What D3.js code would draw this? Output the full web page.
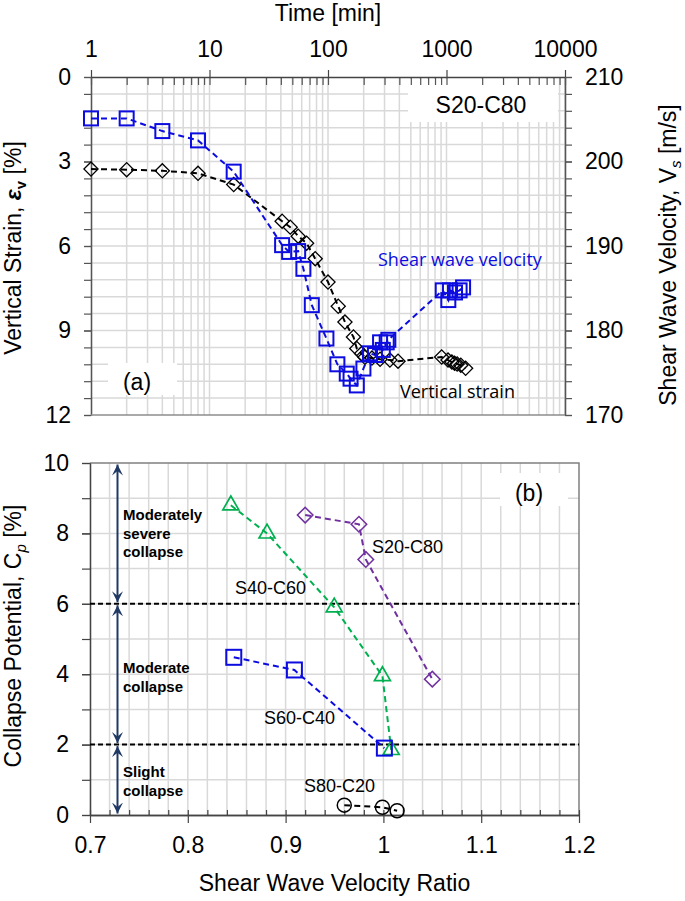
<!DOCTYPE html>
<html><head><meta charset="utf-8">
<script src="https://cdn.jsdelivr.net/npm/d3@7"></script>
<style>
body{margin:0;background:#fff}
svg{display:block}
text{font-family:"Liberation Sans",Arial,sans-serif}
</style>
</head><body>
<svg id="c" width="685" height="901"></svg>
<script>
// ---------- DATA ----------
const strainTime   = [1,2,4,8,16,41,48,56,66,78,100,122,139,164,175,192,205,235,275,333,390,910,1030,1110,1170,1230,1320,1450];
const strainValues = [3.27,3.29,3.33,3.42,3.82,5.12,5.33,5.65,5.9,6.45,7.28,8.14,8.7,9.23,9.64,9.82,9.95,9.98,10.02,10.05,10.09,9.94,10.05,10.12,10.16,10.19,10.23,10.34];
const vsTime   = [1,2,4,8,16,41,47,56,62,73,97,120,144,155,175,199,226,249,275,290,313,323,929,1036,1070,1180,1290,1380];
const vsValues = [205.1,205.1,203.6,202.5,198.8,190.1,189.3,189.4,187.3,183.0,179.05,176.0,174.9,174.3,173.5,175.5,177.3,177.1,178.6,177.7,178.6,178.9,184.75,183.6,184.75,184.5,184.75,185.1];

const timeTicks   = [1,10,100,1000,10000];
const strainTicks = [0,3,6,9,12];
const vsTicks     = [170,180,190,200,210];
const ratioTicks  = [0.7,0.8,0.9,1,1.1,1.2];
const cpTicks     = [0,2,4,6,8,10];

const s20Ratio = [0.92,0.975,0.982,1.05];
const s20Cp    = [8.52,8.26,7.26,3.86];
const s40Ratio = [0.844,0.881,0.9497,0.999,1.008];
const s40Cp    = [8.8,8.0,5.9,3.95,1.85];
const s60Ratio = [0.847,0.909,1.001];
const s60Cp    = [4.48,4.12,1.9];
const s80Ratio = [0.96,0.999,1.014];
const s80Cp    = [0.28,0.22,0.12];
const zoneBounds = [2,6];

// ---------- LAYOUT ----------
const svg = d3.select("#c");
const T = {l:91, r:565, t:77, b:415};
const B = {l:90, r:579, t:463, b:815};
const FS = 23;
const BLUE = "#0c0ce0", GREEN = "#00b050", PURPLE = "#7030a0", NAVY = "#1f3864";
const GRID = "#d9d9d9";

const xTime = d3.scaleLog().domain([1,10000]).range([T.l,T.r]);
const yStrain = d3.scaleLinear().domain([0,12]).range([T.t,T.b]);
const yVs = d3.scaleLinear().domain([170,210]).range([T.b,T.t]);
const xRatio = d3.scaleLinear().domain([0.7,1.2]).range([B.l,B.r]);
const yCp = d3.scaleLinear().domain([0,10]).range([B.b,B.t]);

// ---------- TOP PANEL GRID ----------
const minorTimes = [];
for (let k=0;k<4;k++) for (let m=1;m<10;m++) minorTimes.push(m*Math.pow(10,k));
minorTimes.push(10000);
const strainMinor = d3.range(0,21).map(i=>i*0.6);

const gGridT = svg.append("g").attr("stroke",GRID).attr("stroke-width",1.5);
gGridT.selectAll("line.v").data(minorTimes.slice(1)).join("line")
  .attr("x1",d=>xTime(d)).attr("x2",d=>xTime(d)).attr("y1",T.t).attr("y2",T.b);
gGridT.selectAll("line.h").data(strainMinor.slice(1,-1)).join("line")
  .attr("x1",T.l).attr("x2",T.r).attr("y1",d=>yStrain(d)).attr("y2",d=>yStrain(d));

// white label boxes
svg.append("rect").attr("x",408).attr("y",79).attr("width",150).attr("height",43).attr("fill","#fff");
svg.append("rect").attr("x",108).attr("y",363).attr("width",69).attr("height",32).attr("fill","#fff");

// ---------- TOP PANEL AXES ----------
function styleAxis(g,color){
  g.select(".domain").attr("stroke",color).attr("stroke-width",1.3);
  g.selectAll(".tick line").attr("stroke",color).attr("stroke-width",1.2);
  g.selectAll(".tick text").attr("fill","#000").attr("font-size",FS).attr("font-family",'"Liberation Sans",Arial,sans-serif');
}
svg.append("g").attr("transform",`translate(0,${T.t})`)
  .call(d3.axisBottom(xTime).tickValues(minorTimes).tickSize(8).tickFormat(""))
  .call(g=>{g.select(".domain").remove(); g.selectAll(".tick line").attr("stroke","#555").attr("stroke-width",1.2);});
svg.append("g").attr("transform",`translate(0,${T.t})`)
  .call(d3.axisTop(xTime).tickValues(timeTicks).tickSize(7).tickSizeOuter(0).tickPadding(13).tickFormat(d3.format("d")))
  .call(g=>styleAxis(g,"#444"));
svg.append("g").attr("transform",`translate(${T.l},0)`)
  .call(d3.axisLeft(yStrain).tickValues(strainMinor).tickSize(7).tickSizeOuter(0).tickFormat(""))
  .call(g=>styleAxis(g,"#555"));
svg.append("g").attr("transform",`translate(${T.l},0)`)
  .call(d3.axisLeft(yStrain).tickValues(strainTicks).tickSize(7).tickSizeOuter(0).tickPadding(13).tickFormat(d3.format("d")))
  .call(g=>styleAxis(g,"#555"));
const vsMinor = d3.range(170,211,2);
svg.append("g").attr("transform",`translate(${T.r},0)`)
  .call(d3.axisRight(yVs).tickValues(vsMinor).tickSize(7).tickSizeOuter(0).tickFormat(""))
  .call(g=>styleAxis(g,"#555"));
svg.append("g").attr("transform",`translate(${T.r},0)`)
  .call(d3.axisRight(yVs).tickValues(vsTicks).tickSize(7).tickSizeOuter(0).tickPadding(13).tickFormat(d3.format("d")))
  .call(g=>styleAxis(g,"#555"));
svg.append("line").attr("x1",T.l).attr("x2",T.r).attr("y1",T.b).attr("y2",T.b).attr("stroke","#8c8c8c").attr("stroke-width",1.5);

// ---------- TOP PANEL DATA ----------
const strainPts = strainTime.map((t,i)=>[xTime(t),yStrain(strainValues[i])]);
const vsPts = vsTime.map((t,i)=>[xTime(t),yVs(vsValues[i])]);
const line = d3.line();
svg.append("path").attr("d",line(strainPts)).attr("fill","none").attr("stroke","#000").attr("stroke-width",2).attr("stroke-dasharray","6,4");
svg.append("path").attr("d",line(vsPts)).attr("fill","none").attr("stroke",BLUE).attr("stroke-width",2).attr("stroke-dasharray","6,4");

svg.append("g").selectAll("rect").data(strainPts).join("rect")
  .attr("x",-5).attr("y",-5).attr("width",10).attr("height",10)
  .attr("transform",d=>`translate(${d[0]},${d[1]}) rotate(45)`)
  .attr("fill","none").attr("stroke","#000").attr("stroke-width",1.3);
svg.append("g").selectAll("rect").data(vsPts).join("rect")
  .attr("x",d=>d[0]-7).attr("y",d=>d[1]-7).attr("width",14).attr("height",14)
  .attr("fill","none").attr("stroke",BLUE).attr("stroke-width",2);

// ---------- TOP PANEL TEXT ----------
svg.append("text").attr("x",(T.l+T.r)/2).attr("y",21).attr("text-anchor","middle").attr("font-size",FS).text("Time [min]");
svg.append("text").attr("x",481).attr("y",113).attr("text-anchor","middle").attr("font-size",FS).text("S20-C80");
svg.append("text").attr("x",137).attr("y",390).attr("text-anchor","middle").attr("font-size",FS).text("(a)");
svg.append("text").attr("x",378).attr("y",266).attr("font-size",18).attr("fill",BLUE)
  .style("font-family",'"Open Sans","Noto Sans",sans-serif').text("Shear wave velocity");
svg.append("text").attr("x",400).attr("y",398).attr("font-size",18).attr("fill","#000")
  .style("font-family",'"Open Sans","Noto Sans",sans-serif').text("Vertical strain");

const lt = svg.append("text").attr("transform","translate(21,248) rotate(-90)").attr("text-anchor","middle").attr("font-size",FS);
lt.append("tspan").text("Vertical Strain, ");
lt.append("tspan").attr("font-weight","bold").attr("font-style","italic").text("ε");
lt.append("tspan").attr("font-weight","bold").attr("font-size",15).attr("dy",5).text("v");
lt.append("tspan").attr("dy",-5).text(" [%]");

const rt = svg.append("text").attr("transform","translate(676,255) rotate(-90)").attr("text-anchor","middle").attr("font-size",FS);
rt.append("tspan").text("Shear Wave Velocity,  V");
rt.append("tspan").attr("font-style","italic").attr("font-size",15).attr("dy",5).text("s");
rt.append("tspan").attr("dy",-5).text(" [m/s]");

// ---------- BOTTOM PANEL GRID ----------
const ratioMinor = d3.range(0,26).map(i=>0.7+i*0.02);
const cpMinor = d3.range(0,11);
const gGridB = svg.append("g").attr("stroke",GRID).attr("stroke-width",1.5);
gGridB.selectAll("line.v").data(ratioMinor.slice(1,-1)).join("line")
  .attr("x1",d=>xRatio(d)).attr("x2",d=>xRatio(d)).attr("y1",B.t).attr("y2",B.b);
gGridB.selectAll("line.h").data(cpMinor.slice(1,-1)).join("line")
  .attr("x1",B.l).attr("x2",B.r).attr("y1",d=>yCp(d)).attr("y2",d=>yCp(d));
svg.append("rect").attr("x",500).attr("y",473).attr("width",68).attr("height",33).attr("fill","#fff");
svg.append("path").attr("d",`M${B.l},${B.t}H${B.r}V${B.b}`).attr("fill","none").attr("stroke","#808080").attr("stroke-width",1.5);

// ---------- BOTTOM PANEL AXES ----------
svg.append("g").attr("transform",`translate(0,${B.b})`)
  .call(d3.axisTop(xRatio).tickValues(ratioMinor).tickSize(5).tickSizeOuter(0).tickFormat(""))
  .call(g=>styleAxis(g,"#444"));
svg.append("g").attr("transform",`translate(0,${B.b})`)
  .call(d3.axisBottom(xRatio).tickValues(ratioTicks).tickSize(8).tickSizeOuter(0).tickPadding(14).tickFormat(d=>String(d)))
  .call(g=>styleAxis(g,"#444"));
svg.append("g").attr("transform",`translate(${B.l},0)`)
  .call(d3.axisLeft(yCp).tickValues(cpMinor).tickSize(8).tickSizeOuter(0).tickFormat(""))
  .call(g=>styleAxis(g,"#444"));
svg.append("g").attr("transform",`translate(${B.l},0)`)
  .call(d3.axisLeft(yCp).tickValues(cpTicks).tickSize(8).tickSizeOuter(0).tickPadding(13).tickFormat(d3.format("d")))
  .call(g=>styleAxis(g,"#444"));

svg.append("g").selectAll("line").data(zoneBounds).join("line")
  .attr("x1",B.l).attr("x2",B.r).attr("y1",d=>yCp(d)).attr("y2",d=>yCp(d))
  .attr("stroke","#000").attr("stroke-width",2).attr("stroke-dasharray","5,3");

// arrows
const defs = svg.append("defs");
function mk(id,rev){
  defs.append("marker").attr("id",id).attr("viewBox","0 0 10 10").attr("refX",rev?0:10).attr("refY",5)
    .attr("markerWidth",5.5).attr("markerHeight",5.5).attr("orient","auto")
    .append("path").attr("d",rev?"M10,0L0,5L10,10L6,5Z":"M0,0L10,5L0,10L4,5Z").attr("fill",NAVY);
}
mk("ah",false); mk("at",true);
const zoneEdges = [10].concat(zoneBounds.slice().reverse()).concat([0]);
const ax = 117.5;
for (let i=0;i<zoneEdges.length-1;i++){
  const y1 = yCp(zoneEdges[i])+1.5, y2 = yCp(zoneEdges[i+1])-1.5;
  svg.append("line").attr("x1",ax).attr("x2",ax).attr("y1",y1).attr("y2",y2)
    .attr("stroke",NAVY).attr("stroke-width",2)
    .attr("marker-start","url(#at)").attr("marker-end","url(#ah)");
}

// ---------- BOTTOM PANEL DATA ----------
function series(xs,ys,color){
  const pts = xs.map((x,i)=>[xRatio(x),yCp(ys[i])]);
  svg.append("path").attr("d",line(pts)).attr("fill","none").attr("stroke",color)
    .attr("stroke-width",2).attr("stroke-dasharray","6,4");
  return pts;
}
const p20 = series(s20Ratio,s20Cp,PURPLE);
const p40 = series(s40Ratio,s40Cp,GREEN);
const p60 = series(s60Ratio,s60Cp,BLUE);
const p80 = series(s80Ratio,s80Cp,"#000");

svg.append("g").selectAll("rect").data(p20).join("rect")
  .attr("x",-5.5).attr("y",-5.5).attr("width",11).attr("height",11)
  .attr("transform",d=>`translate(${d[0]},${d[1]}) rotate(45)`)
  .attr("fill","none").attr("stroke",PURPLE).attr("stroke-width",1.5);
const tri = d3.symbol().type(d3.symbolTriangle).size(110);
svg.append("g").selectAll("path").data(p40).join("path")
  .attr("d",tri).attr("transform",d=>`translate(${d[0]},${d[1]})`)
  .attr("fill","none").attr("stroke",GREEN).attr("stroke-width",1.7);
svg.append("g").selectAll("rect").data(p60).join("rect")
  .attr("x",d=>d[0]-7.5).attr("y",d=>d[1]-7.5).attr("width",15).attr("height",15)
  .attr("fill","none").attr("stroke",BLUE).attr("stroke-width",2);
svg.append("g").selectAll("circle").data(p80).join("circle")
  .attr("cx",d=>d[0]).attr("cy",d=>d[1]).attr("r",7)
  .attr("fill","none").attr("stroke","#000").attr("stroke-width",1.5);

// ---------- BOTTOM PANEL TEXT ----------
svg.append("text").attr("x",529).attr("y",501).attr("text-anchor","middle").attr("font-size",FS).text("(b)");
const lab = [["S20-C80",372,553],["S40-C60",235,594],["S60-C40",264,724],["S80-C20",304,792]];
svg.append("g").selectAll("text").data(lab).join("text")
  .attr("x",d=>d[1]).attr("y",d=>d[2]).attr("font-size",18).text(d=>d[0]);
const zoneText = [["Moderately",520],["severe",539],["collapse",557],["Moderate",673],["collapse",692],["Slight",777],["collapse",796]];
svg.append("g").selectAll("text").data(zoneText).join("text")
  .attr("x",123).attr("y",d=>d[1]).attr("font-size",15).attr("font-weight","bold").text(d=>d[0]);

svg.append("text").attr("x",(B.l+B.r)/2).attr("y",891).attr("text-anchor","middle").attr("font-size",FS).text("Shear Wave Velocity Ratio");
const bt = svg.append("text").attr("transform","translate(21,636) rotate(-90)").attr("text-anchor","middle").attr("font-size",FS);
bt.append("tspan").text("Collapse Potential,  C");
bt.append("tspan").attr("font-style","italic").attr("font-size",15).attr("dy",5).text("p");
bt.append("tspan").attr("dy",-5).text(" [%]");
</script>
</body></html>
